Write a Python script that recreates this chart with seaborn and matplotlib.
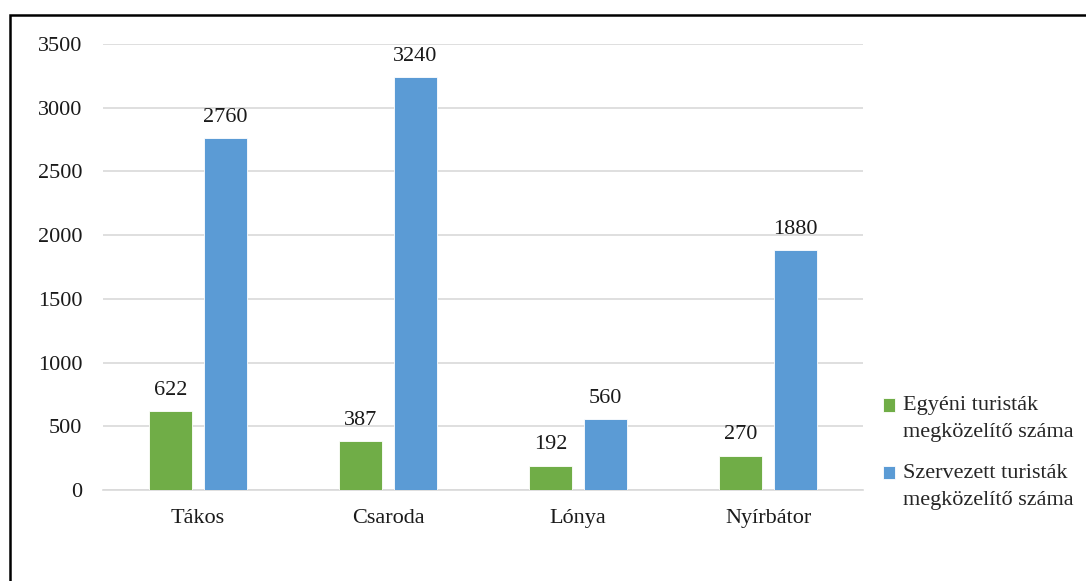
import pandas as pd
import seaborn as sns
import matplotlib.pyplot as plt
from matplotlib.patches import Rectangle
from matplotlib.legend_handler import HandlerPatch

# Data
telepulesek = ['Tákos', 'Csaroda', 'Lónya', 'Nyírbátor']
egyeni = [622, 387, 192, 270]
szervezett = [2760, 3240, 560, 1880]
sorozatok = ['Egyéni turisták\nmegközelítő száma', 'Szervezett turisták\nmegközelítő száma']
y_ticks = [0, 500, 1000, 1500, 2000, 2500, 3000, 3500]

df = pd.DataFrame({
    'Település': telepulesek * 2,
    'Érték': egyeni + szervezett,
    'Sorozat': [sorozatok[0]] * len(telepulesek) + [sorozatok[1]] * len(telepulesek),
})

sns.set_style('white')
plt.rcParams['font.family'] = ['Liberation Serif', 'DejaVu Serif']
fs = 16

fig = plt.figure(figsize=(10.86, 5.81), dpi=100)
ax = fig.add_axes([103 / 1086, 1 - 490 / 581, 760 / 1086, 446 / 581])

sns.barplot(data=df, x='Település', y='Érték', hue='Sorozat', hue_order=sorozatok,
            palette=['#70AD47', '#5B9BD5'], saturation=1, width=0.58, gap=0.22, ax=ax,
            edgecolor='white', linewidth=0.6, zorder=3)

# Value labels
for cont in ax.containers:
    ax.bar_label(cont, padding=8, fontsize=fs, color='#1a1a1a')

ax.set_ylim(0, 3500)
ax.set_yticks(y_ticks)
ax.yaxis.grid(True, color='#D9D9D9', linewidth=1.2, zorder=0)
ax.set_axisbelow(True)
for s in ['top', 'right', 'left']:
    ax.spines[s].set_visible(False)
ax.spines['bottom'].set_color('#D9D9D9')
ax.spines['bottom'].set_linewidth(1.2)
ax.tick_params(axis='both', length=0, labelsize=fs, colors='#1a1a1a')
ax.tick_params(axis='y', pad=15)
ax.tick_params(axis='x', pad=14)
ax.set_xlabel('')
ax.set_ylabel('')


# legend squares sit next to the first line of each label
def top_square(legend, orig_handle, xdescent, ydescent, width, height, fontsize):
    return Rectangle((-xdescent, -ydescent + 0.6 * fontsize), width, height)


handles, labels = ax.get_legend_handles_labels()
leg = ax.legend(handles, labels, loc='center left',
                bbox_to_anchor=((883 - 103) / 760, 0.083), frameon=False,
                fontsize=fs, handlelength=0.55, handleheight=0.55, handletextpad=0.35,
                labelspacing=1.0, borderaxespad=0, borderpad=0,
                handler_map={h: HandlerPatch(patch_func=top_square) for h in handles})
for t in leg.get_texts():
    t.set_linespacing(1.55)

# Outer frame (only left and top edges are visible)
fig.patches.append(Rectangle((10 / 1086, -0.1), 1.2, 1 - 15 / 581 + 0.1,
                             transform=fig.transFigure, fill=False,
                             edgecolor='black', linewidth=1.8))

fig.savefig('out.png', dpi=100)
